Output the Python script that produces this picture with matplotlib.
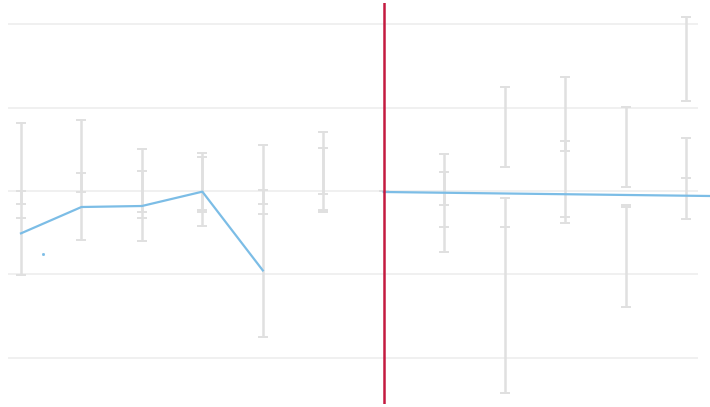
import matplotlib
matplotlib.use("Agg")
import matplotlib.pyplot as plt
import numpy as np

# category positions (index)
cats = list(range(12))

# main series (blue line), first 5 categories
line_x = [0, 1, 2, 3, 4]
line_y = [-0.508, -0.192, -0.180, -0.008, -0.953]

# trend after the marker (blue line)
trend_x = [6, 11.40]
trend_y = [-0.012, -0.060]

# stray dot
dot_x = [0.364]
dot_y = [-0.757]

# error bar series A (high, low)
a_high = [0.817, 0.853, 0.505, 0.456, 0.553, 0.709, np.nan, 0.444, 1.249, 1.369, 1.009, 2.090]
a_low = [-0.156, -0.012, -0.252, -0.228, -0.156, -0.036, np.nan, -0.168, 0.288, 0.480, 0.048, 1.081]

# error bar series B (high, low)
b_high = [0.000, 0.216, 0.240, 0.408, 0.012, 0.517, np.nan, 0.228, -0.084, 0.601, -0.168, 0.637]
b_low = [-1.009, -0.589, -0.601, -0.420, -1.754, -0.252, np.nan, -0.733, -2.426, -0.384, -1.393, -0.336]

# single cap series C
c_val = [-0.324, -0.012, -0.324, -0.252, -0.276, -0.228, 0.000, -0.432, -0.432, -0.312, -0.192, 0.156]

# vertical marker position
marker_x = 6

grid_vals = [-2, -1, 0, 1, 2]

fig = plt.figure(figsize=(7.10, 4.07), dpi=100)
ax = fig.add_axes([8 / 710, 1 - 404 / 407, 690 / 710, 401 / 407])

x_scale = 60.45
ax.set_xlim(-13 / x_scale, 11 + 12 / x_scale)
ax.set_ylim(-(404 - 191.0) / 83.35, (191.0 - 3) / 83.35)

ax.set_yticks(grid_vals)
ax.set_xticks([])
ax.tick_params(left=False, labelleft=False, bottom=False, labelbottom=False)
ax.grid(axis='y', color='#ededed', linewidth=1.2)
ax.set_axisbelow(True)
for s in ax.spines.values():
    s.set_visible(False)

gray = '#e0e0e0'
for hi, lo in [(a_high, a_low), (b_high, b_low)]:
    hi = np.array(hi, dtype=float)
    lo = np.array(lo, dtype=float)
    mid = (hi + lo) / 2
    ax.errorbar(cats, mid, yerr=[mid - lo, hi - mid], fmt='none', ecolor=gray,
                elinewidth=1.8, capsize=3.6, capthick=1.4, zorder=2)

ax.plot(cats, c_val, ls='none', marker='_', markersize=7.2, mew=1.4, color=gray, zorder=2)

ax.plot(line_x, line_y, color='#7cbde6', linewidth=1.6, zorder=4)
ax.plot(trend_x, trend_y, color='#7cbde6', linewidth=1.6, zorder=4, clip_on=False)
ax.plot(dot_x, dot_y, ls='none', marker='s', markersize=1.0, color='#7cbde6', zorder=4)

ax.axvline(marker_x, color='#c41a40', linewidth=1.8, zorder=5)

fig.savefig('out.png', dpi=100)
